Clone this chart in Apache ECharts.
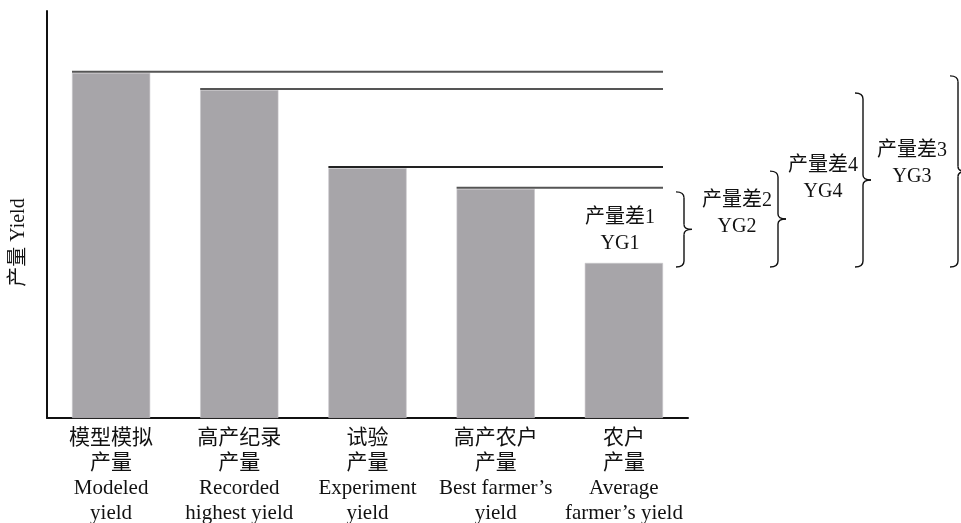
<!DOCTYPE html>
<html>
<head>
<meta charset="utf-8">
<script src="https://cdn.jsdelivr.net/npm/echarts@6/dist/echarts.min.js"></script>
<style>
html,body{margin:0;padding:0;background:#fff;}
#chart{width:961px;height:523px;}
</style>
</head>
<body>
<div id="chart"></div>
<script>
// ---- data ----
const categoriesCn1 = ['模型模拟', '高产纪录', '试验', '高产农户', '农户'];
const categoriesCn2 = ['产量', '产量', '产量', '产量', '产量'];
const categoriesEn1 = ['Modeled', 'Recorded', 'Experiment', 'Best farmer’s', 'Average'];
const categoriesEn2 = ['yield', 'highest yield', 'yield', 'yield', 'farmer’s yield'];
const yieldValues = [84.8, 80.6, 61.4, 56.3, 38.1];
const gapNamesCn = ['产量差1', '产量差2', '产量差4', '产量差3'];
const gapNamesEn = ['YG1', 'YG2', 'YG4', 'YG3'];
const gapUpper = [3, 2, 1, 0];   // index of the higher yield
const gapLower = [4, 4, 4, 4];   // index of the lower yield
const yAxisName = '产量 Yield';

// ---- layout / style (not data) ----
const braceX = [684, 778, 863, 958];
const labelX = [620, 737, 823, 912];
const labelDy = [1, -5, -1, -8];
const FONT = '"Liberation Serif","Noto Sans CJK SC",serif';
const BAR_RATIO = 0.61;

const categories = categoriesCn1.map((c, i) =>
  c + '\n' + categoriesCn2[i] + '\n' + categoriesEn1[i] + '\n' + categoriesEn2[i]);

const chart = echarts.init(document.getElementById('chart'), null, {renderer: 'canvas'});

function braceItem(params, api) {
  const i = params.dataIndex;
  const top = api.coord([gapUpper[i], api.value(1)])[1] + 3;
  const bot = api.coord([gapLower[i], api.value(2)])[1] + 4;
  const mid = (top + bot) / 2;
  const x = braceX[i];
  const st = {stroke: '#111', lineWidth: 1.4, fill: null};
  const bz = (x1, y1, cx, cy, x2, y2) => ({type: 'bezierCurve', shape: {x1, y1, x2, y2, cpx1: cx, cpy1: cy}, style: st});
  const ln = (x1, y1, x2, y2) => ({type: 'line', shape: {x1, y1, x2, y2}, style: st});
  const ly = mid + labelDy[i];
  return {
    type: 'group',
    children: [
      bz(x - 8, top, x, top, x, top + 6),
      ln(x, top + 6, x, mid - 5),
      bz(x, mid - 5, x, mid, x + 8, mid),
      bz(x + 8, mid, x, mid, x, mid + 5),
      ln(x, mid + 5, x, bot - 6),
      bz(x, bot - 6, x, bot, x - 8, bot),
      {type: 'text', style: {text: gapNamesCn[i], x: labelX[i], y: ly - 13, textAlign: 'center', textVerticalAlign: 'middle', fontSize: 20, fontFamily: FONT, fill: '#111'}},
      {type: 'text', style: {text: gapNamesEn[i], x: labelX[i], y: ly + 13, textAlign: 'center', textVerticalAlign: 'middle', fontSize: 20, fontFamily: FONT, fill: '#111'}}
    ]
  };
}

function lineItem(params, api) {
  const idx = api.value(0);
  if (idx >= categories.length - 1) return null;
  const p = api.coord([idx, api.value(1)]);
  const half = api.size([1, 0])[0] * BAR_RATIO / 2;
  const endX = api.coord([categories.length - 1, 0])[0] + half;
  return {
    type: 'line',
    shape: {x1: p[0] - half, y1: p[1] - 1, x2: endX, y2: p[1] - 1},
    style: {stroke: idx === 2 ? '#222' : '#555', lineWidth: 2}
  };
}

chart.setOption({
  animation: false,
  grid: {left: 47, right: 273, top: 11, bottom: 105, containLabel: false, outerBoundsMode: 'none'},
  xAxis: {
    type: 'category',
    data: categories,
    axisLine: {show: true, lineStyle: {color: '#111', width: 2}},
    axisTick: {show: false},
    axisLabel: {interval: 0, margin: 8, fontSize: 21, lineHeight: 25, color: '#111', fontFamily: FONT, align: 'center'}
  },
  yAxis: {
    type: 'value',
    min: 0, max: 100,
    name: yAxisName,
    nameLocation: 'middle',
    nameGap: 18,
    nameRotate: 90,
    nameTextStyle: {fontSize: 20, color: '#111', fontFamily: FONT, padding: [0, 56, 0, 0]},
    axisLine: {show: true, lineStyle: {color: '#111', width: 2}},
    axisTick: {show: false},
    axisLabel: {show: false},
    splitLine: {show: false}
  },
  series: [
    {
      type: 'bar',
      data: yieldValues,
      barWidth: (BAR_RATIO * 100) + '%',
      itemStyle: {color: '#a7a5a9', borderColor: '#c8c6ca', borderWidth: 0.6},
      z: 2
    },
    {
      type: 'custom',
      renderItem: lineItem,
      data: yieldValues.map((v, i) => [i, v]),
      encode: {x: 0, y: 1},
      z: 3
    },
    {
      type: 'custom',
      renderItem: braceItem,
      data: gapUpper.map((u, i) => [0, yieldValues[u], yieldValues[gapLower[i]]]),
      encode: {x: 0, y: [1, 2]},
      clip: false,
      z: 4
    }
  ]
});
</script>
</body>
</html>
